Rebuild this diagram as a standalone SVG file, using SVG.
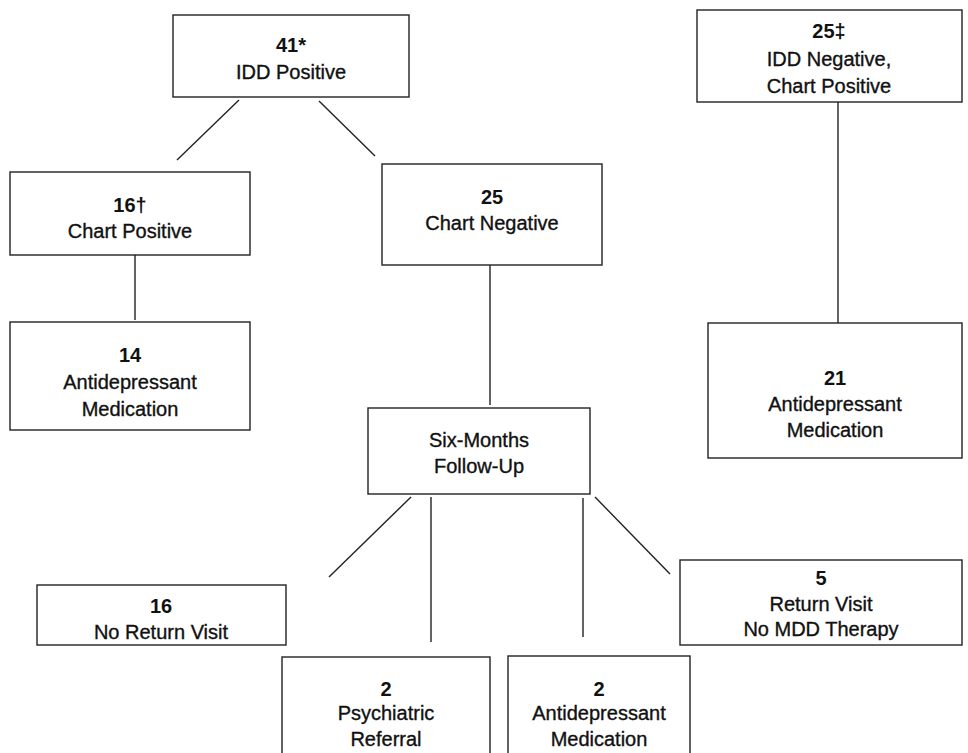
<svg xmlns="http://www.w3.org/2000/svg" width="968" height="753" viewBox="0 0 968 753">
<style>
  .box { fill: #ffffff; stroke: #222; stroke-width: 1.4; }
  .ln { stroke: #222; stroke-width: 1.4; fill: none; }
  text { font-family: "Liberation Sans", Arial, sans-serif; font-size: 20px; fill: #111; stroke: #111; stroke-width: 0.35; text-anchor: middle; }
  .num { font-weight: bold; stroke-width: 0; }
</style>
<rect width="968" height="753" fill="#ffffff"/>
<g id="connectors">
  <line class="ln" x1="239" y1="100" x2="177" y2="160"/>
  <line class="ln" x1="319" y1="101" x2="375" y2="156"/>
  <line class="ln" x1="135" y1="255" x2="135" y2="320"/>
  <line class="ln" x1="490" y1="265" x2="490" y2="405"/>
  <line class="ln" x1="838" y1="102" x2="838" y2="323"/>
  <line class="ln" x1="411" y1="497" x2="329" y2="577"/>
  <line class="ln" x1="431" y1="497" x2="431" y2="642"/>
  <line class="ln" x1="583" y1="498" x2="583" y2="637"/>
  <line class="ln" x1="595" y1="497" x2="670" y2="574"/>
</g>
<g id="idd-positive">
  <rect class="box" x="173" y="15" width="236" height="82"/>
  <text class="num" x="291" y="52">41*</text>
  <text x="291" y="79">IDD Positive</text>
</g>
<g id="idd-negative-chart-positive">
  <rect class="box" x="697" y="10" width="265" height="92"/>
  <text class="num" x="829" y="38">25‡</text>
  <text x="829" y="66">IDD Negative,</text>
  <text x="829" y="93">Chart Positive</text>
</g>
<g id="chart-positive">
  <rect class="box" x="10" y="172" width="240" height="83"/>
  <text class="num" x="130" y="212">16†</text>
  <text x="130" y="238">Chart Positive</text>
</g>
<g id="antidep-14">
  <rect class="box" x="10" y="322" width="240" height="108"/>
  <text class="num" x="130" y="362">14</text>
  <text x="130" y="389">Antidepressant</text>
  <text x="130" y="416">Medication</text>
</g>
<g id="chart-negative">
  <rect class="box" x="382" y="164" width="220" height="101"/>
  <text class="num" x="492" y="204">25</text>
  <text x="492" y="230">Chart Negative</text>
</g>
<g id="six-months">
  <rect class="box" x="368" y="408" width="222" height="86"/>
  <text x="479" y="447">Six-Months</text>
  <text x="479" y="473">Follow-Up</text>
</g>
<g id="antidep-21">
  <rect class="box" x="708" y="323" width="254" height="135"/>
  <text class="num" x="835" y="385">21</text>
  <text x="835" y="411">Antidepressant</text>
  <text x="835" y="437">Medication</text>
</g>
<g id="no-return">
  <rect class="box" x="37" y="585" width="249" height="60"/>
  <text class="num" x="161" y="613">16</text>
  <text x="161" y="639">No Return Visit</text>
</g>
<g id="return-no-mdd">
  <rect class="box" x="680" y="560" width="282" height="85"/>
  <text class="num" x="821" y="585">5</text>
  <text x="821" y="611">Return Visit</text>
  <text x="821" y="636">No MDD Therapy</text>
</g>
<g id="psych-referral">
  <rect class="box" x="282" y="657" width="208" height="110"/>
  <text class="num" x="386" y="696">2</text>
  <text x="386" y="720">Psychiatric</text>
  <text x="386" y="746">Referral</text>
</g>
<g id="antidep-2">
  <rect class="box" x="508" y="656" width="182" height="110"/>
  <text class="num" x="599" y="696">2</text>
  <text x="599" y="720">Antidepressant</text>
  <text x="599" y="746">Medication</text>
</g>
</svg>
